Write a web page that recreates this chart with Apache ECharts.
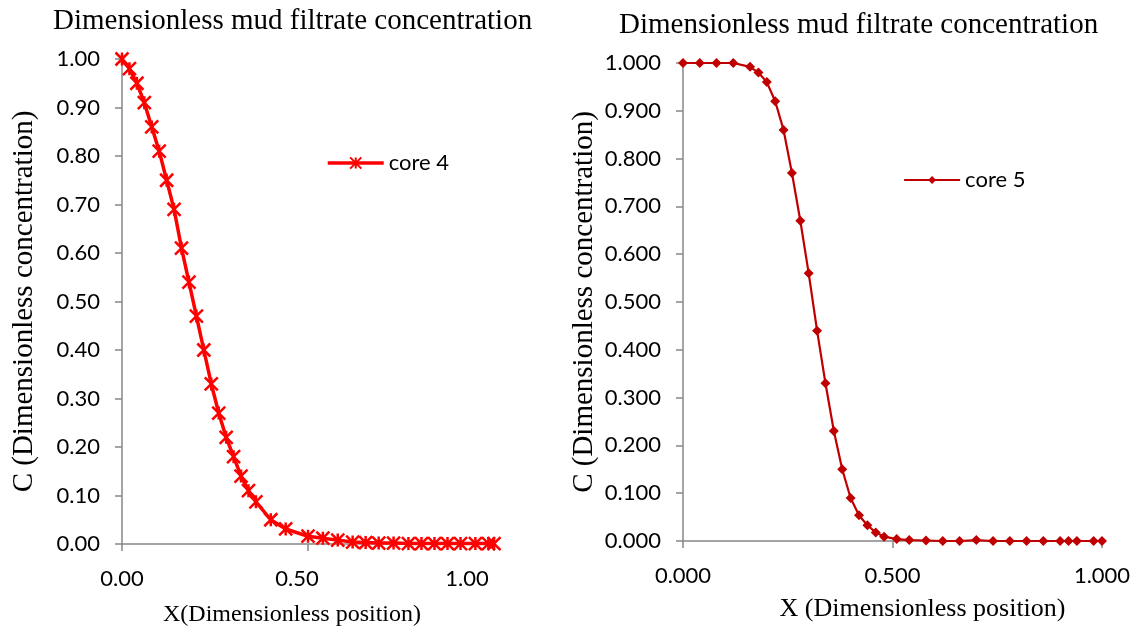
<!DOCTYPE html>
<html>
<head>
<meta charset="utf-8">
<script src="https://cdn.jsdelivr.net/npm/echarts@6/dist/echarts.min.js"></script>
<style>
  html, body { margin: 0; padding: 0; background: #fff; }
  #chart { width: 1146px; height: 633px; }
</style>
</head>
<body>
<div id="chart"></div>
<script>
// core 4 (left panel)
var core4X = [0, 0.02, 0.04, 0.06, 0.08, 0.10, 0.12, 0.14, 0.16, 0.18, 0.20, 0.22, 0.24, 0.26, 0.28, 0.30, 0.32, 0.34, 0.36, 0.40, 0.44, 0.50, 0.54, 0.58, 0.62, 0.655, 0.69, 0.73, 0.77, 0.805, 0.84, 0.875, 0.91, 0.95, 0.985, 1.0];
var core4C = [1.00, 0.98, 0.95, 0.91, 0.86, 0.81, 0.75, 0.69, 0.61, 0.54, 0.47, 0.40, 0.33, 0.27, 0.22, 0.18, 0.14, 0.11, 0.087, 0.05, 0.031, 0.016, 0.012, 0.008, 0.004, 0.003, 0.002, 0.002, 0.001, 0.001, 0.001, 0.001, 0.001, 0.001, 0.001, 0.001];

// core 5 (right panel)
var core5X = [0, 0.04, 0.08, 0.12, 0.16, 0.18, 0.20, 0.22, 0.24, 0.26, 0.28, 0.30, 0.32, 0.34, 0.36, 0.38, 0.40, 0.42, 0.44, 0.46, 0.48, 0.51, 0.54, 0.58, 0.62, 0.66, 0.70, 0.74, 0.78, 0.82, 0.86, 0.90, 0.92, 0.94, 0.98, 1.00];
var core5C = [1, 1, 1, 1, 0.992, 0.98, 0.96, 0.92, 0.86, 0.77, 0.67, 0.56, 0.44, 0.33, 0.23, 0.15, 0.09, 0.054, 0.033, 0.018, 0.009, 0.004, 0.002, 0.001, 0, 0, 0.002, 0, 0, 0, 0, 0, 0, 0, 0, 0];

var titleText = "Dimensionless mud filtrate concentration";
var yName = "C (Dimensionless concentration)";
var xNameLeft = "X(Dimensionless position)";
var xNameRight = "X (Dimensionless position)";

function pairs(xs, ys) {
  var out = [];
  for (var i = 0; i < xs.length; i++) out.push([xs[i], ys[i]]);
  return out;
}

var serif = "'Liberation Serif', 'Times New Roman', serif";
var sans = "Lato, 'Noto Sans', sans-serif";
var axisGrey = "#878787";

function xAxisCfg(idx, name, digits, gap, nameSize, namePad, labelShift) {
  return {
    type: "value",
    gridIndex: idx,
    min: 0,
    max: 1,
    interval: 0.5,
    name: name,
    nameLocation: "middle",
    nameGap: gap,
    nameTextStyle: { fontFamily: serif, fontSize: nameSize, color: "#000", padding: namePad },
    axisLine: { lineStyle: { color: axisGrey, width: 1.5 } },
    axisTick: { show: true, length: 7, lineStyle: { color: axisGrey, width: 1.5 } },
    axisLabel: {
      margin: 24,
      fontFamily: sans,
      fontSize: 22,
      color: "#000",
      formatter: function(v) {
        // the original's tick labels sit a little left of their ticks
        var s = v.toFixed(digits);
        if (labelShift && v > 0) return "{s" + (v * 10) + "|" + s + "}";
        return s;
      },
      rich: {
        s5: { fontFamily: sans, fontSize: 22, color: "#000", padding: [0, labelShift ? labelShift[0] : 0, 0, 0] },
        s10: { fontFamily: sans, fontSize: 22, color: "#000", padding: [0, labelShift ? labelShift[1] : 0, 0, 0] }
      }
    },
    splitLine: { show: false }
  };
}

function yAxisCfg(idx, digits, gap) {
  return {
    type: "value",
    gridIndex: idx,
    min: 0,
    max: 1,
    interval: 0.1,
    name: yName,
    nameLocation: "middle",
    nameGap: gap,
    nameTextStyle: { fontFamily: serif, fontSize: 29, color: "#000" },
    axisLine: { show: true, lineStyle: { color: axisGrey, width: 1.5 } },
    axisTick: { show: true, length: 7, lineStyle: { color: axisGrey, width: 1.5 } },
    axisLabel: {
      margin: 22,
      fontFamily: sans,
      fontSize: 22,
      color: "#000",
      formatter: function(v) { return v.toFixed(digits); }
    },
    splitLine: { show: false }
  };
}

var chart = echarts.init(document.getElementById("chart"));
chart.setOption({
  backgroundColor: "#fff",
  animation: false,
  title: [
    {
      text: titleText,
      left: 48,
      top: 2,
      textStyle: { fontFamily: serif, fontSize: 29, fontWeight: "normal", color: "#000" }
    },
    {
      text: titleText,
      left: 614,
      top: 6,
      textStyle: { fontFamily: serif, fontSize: 29, fontWeight: "normal", color: "#000" }
    }
  ],
  legend: [
    {
      data: ["core 4"],
      left: 321,
      top: 147,
      itemWidth: 56,
      itemHeight: 14,
      itemGap: 6,
      lineStyle: { width: 3.5 },
      textStyle: { fontFamily: sans, fontSize: 22, color: "#000" }
    },
    {
      data: ["core 5"],
      left: 898,
      top: 164,
      itemWidth: 56,
      itemHeight: 10,
      itemGap: 6,
      lineStyle: { width: 2.2 },
      textStyle: { fontFamily: sans, fontSize: 22, color: "#000" }
    }
  ],
  grid: [
    { left: 122, top: 59, width: 372, height: 485 },
    { left: 683, top: 63, width: 419, height: 478 }
  ],
  xAxis: [
    xAxisCfg(0, xNameLeft, 2, 59, 24, [0, 32, 0, 0], [22, 54]),
    xAxisCfg(1, xNameRight, 3, 55, 26, [0, 0, 0, 60], null)
  ],
  yAxis: [yAxisCfg(0, 2, 83), yAxisCfg(1, 3, 84)],
  series: [
    {
      name: "core 4",
      type: "line",
      xAxisIndex: 0,
      yAxisIndex: 0,
      data: pairs(core4X, core4C),
      symbol: "path://M0 0L12 12M12 0L0 12M6 0L6 12",
      symbolSize: 13,
      lineStyle: { color: "#ff0000", width: 3.5 },
      itemStyle: { color: "#ff0000", borderColor: "#ff0000", borderWidth: 2.5 }
    },
    {
      name: "core 5",
      type: "line",
      xAxisIndex: 1,
      yAxisIndex: 1,
      data: pairs(core5X, core5C),
      symbol: "diamond",
      symbolSize: 10,
      lineStyle: { color: "#c00000", width: 2.2 },
      itemStyle: { color: "#c00000", borderWidth: 0 }
    }
  ]
});
</script>
</body>
</html>
